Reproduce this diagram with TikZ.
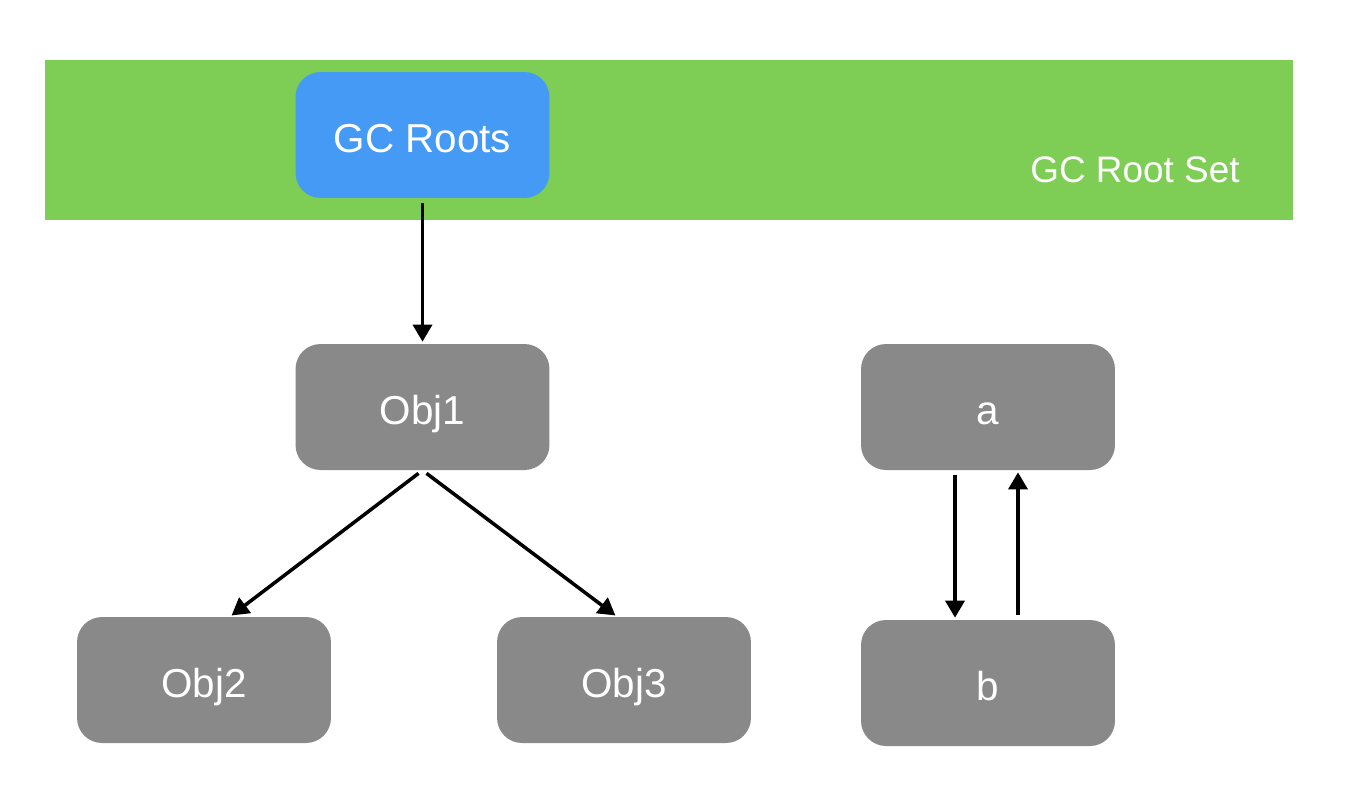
\documentclass[tikz,border=0pt]{standalone}
\usepackage{fontspec}
\setmainfont{Liberation Sans}
\usetikzlibrary{arrows.meta,positioning,calc}
\definecolor{rootgreen}{HTML}{7ECE55}
\definecolor{rootblue}{HTML}{459AF5}
\definecolor{objgray}{HTML}{898989}

\begin{document}
\begin{tikzpicture}[x=0.02cm,y=-0.02cm,
      box/.style={rounded corners=0.5cm,align=center,text=white,
                  minimum width=5.08cm,minimum height=2.52cm,
                  text height=20pt,text depth=0pt,
                  inner sep=0pt,font=\fontsize{23}{27}\selectfont},
      objbox/.style={box,fill=objgray},
      arr/.style={-{Triangle[length=0.34cm,width=0.38cm]},line width=2pt,
                  shorten <=0.1cm,shorten >=0.04cm}]
    \useasboundingbox (0,0) rectangle (1370,796);
    \fill[rootgreen] (45,60) rectangle (1293,220);
    \node[text=white,font=\fontsize{21}{25}\selectfont] (rootset) at (1135,170) {GC Root Set};

    \node[box,fill=rootblue] (roots) at (422.5,135) {GC Roots};
    \node[objbox] (obj1) at (422.5,407) {Obj1};
    \node[objbox] (obj2) at (204,680) {Obj2};
    \node[objbox] (obj3) at (624,680) {Obj3};
    \node[objbox] (a) at (988,407) {a};
    \node[objbox] (b) at (988,683) {b};

    \draw[arr] (roots) -- (obj1);
    \draw[arr] (obj1.south) -- ($(obj2.north)+(26,0)$);
    \draw[arr] (obj1.south) -- ($(obj3.north)+(-7,0)$);
    \draw[arr] ([xshift=-0.66cm]a.south) -- ([xshift=-0.66cm]b.north);
    \draw[arr] ([xshift=0.6cm]b.north) -- ([xshift=0.6cm]a.south);
  \end{tikzpicture}
\end{document}
